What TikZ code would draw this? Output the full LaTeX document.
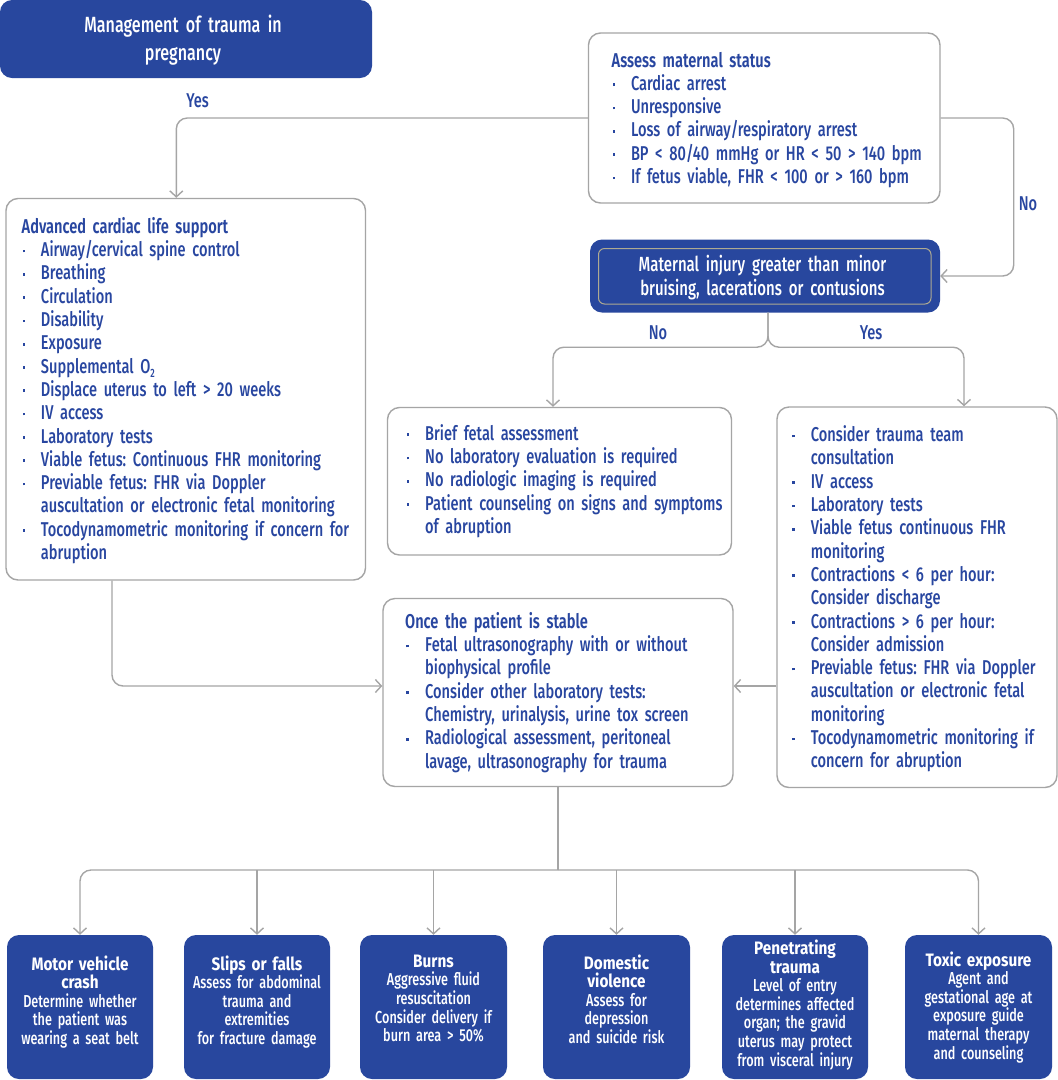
\documentclass[tikz,border=0pt]{standalone}
\usepackage{fontspec}
\setmainfont{Fira Sans Medium}[FakeStretch=0.73, BoldFont={Fira Sans Bold}]
\newfontfamily\medfont{Fira Sans SemiBold}[FakeStretch=0.73]
\newfontfamily\bfont{Fira Sans Bold}[FakeStretch=0.85]
\usetikzlibrary{arrows.meta,calc}
\definecolor{nblue}{RGB}{40,71,158}
\definecolor{tblue}{RGB}{40,70,160}
\definecolor{lgray}{RGB}{165,165,165}
\definecolor{innerc}{RGB}{175,170,145}
\frenchspacing
\hyphenpenalty=10000
\exhyphenpenalty=10000
\newcommand\nl{\hfil\break}
\newcommand\bdot{\raisebox{4.3pt}{\rule{2.7pt}{2.7pt}}}
\newcommand\bitem[2][19.3pt]{{\hangindent=#1\hangafter=1\noindent\makebox[#1][l]{\hspace{0.8pt}\bdot}#2\par}}
\tikzset{
  wbox/.style={draw=lgray, line width=1.4pt, rounded corners=12pt, fill=white, inner sep=0pt},
  bbox/.style={fill=nblue, draw=none, rounded corners=12pt, inner sep=0pt},
  conn/.style={draw=lgray, line width=1.4pt, rounded corners=11pt},
  arr/.style={conn, -{Straight Barb[length=6pt,width=13pt]}},
  txt/.style={inner sep=0pt, text=tblue, font=\fontsize{20}{23.3}\selectfont, text width=#1, align=left, anchor=base west},
  ctxt/.style={inner sep=0pt, text=white, text width=#1, align=center, anchor=base},
  lbl/.style={inner sep=0pt, text=tblue, font=\fontsize{20}{24}\selectfont, anchor=base},
  btxt/.style={ctxt=#1, font=\fontsize{17.3}{18.6}\selectfont}
}
\newcommand\btitle[1]{{\fontsize{18}{18.6}\selectfont\bfont #1}}
\begin{document}
\begin{tikzpicture}[x=1pt,y=-1pt]
\useasboundingbox (0,0) rectangle (1058,1080);
\fill[white] (0,0) rectangle (1058,1080);
% boxes
\node[bbox, minimum width=372pt, minimum height=78pt] (title) at (186,39) {};
\node[wbox, minimum width=351.5pt, minimum height=170pt] (assess) at (764.25,118) {};
\node[bbox, minimum width=350pt, minimum height=73pt] (maternal) at (765,276) {};
\node[draw=innerc, line width=1pt, rounded corners=6pt, inner sep=0pt, minimum width=332.5pt, minimum height=55.5pt] (matinner) at (764.75,276.25) {};
\node[wbox, minimum width=359.5pt, minimum height=381.5pt] (acls) at (185.75,389.25) {};
\node[wbox, minimum width=344pt, minimum height=147.5pt] (midno) at (559.5,481.25) {};
\node[wbox, minimum width=280pt, minimum height=380.5pt] (right) at (917,597.25) {};
\node[wbox, minimum width=350pt, minimum height=188pt] (stable) at (558,692.5) {};
\node[bbox, minimum width=146pt, minimum height=144pt] (b1) at (80,1007) {};
\node[bbox, minimum width=146pt, minimum height=144pt] (b2) at (257,1007) {};
\node[bbox, minimum width=147pt, minimum height=144pt] (b3) at (433.5,1007) {};
\node[bbox, minimum width=147pt, minimum height=144pt] (b4) at (616.5,1007) {};
\node[bbox, minimum width=146pt, minimum height=144pt] (b5) at (795,1007) {};
\node[bbox, minimum width=147pt, minimum height=144pt] (b6) at (978.5,1007) {};
% connectors
\draw[arr] (assess.west) -| ([xshift=171pt]acls.north west);
\draw[arr] (assess.east) -- ++(73,0) |- (maternal.east);
\draw[arr] ([xshift=3pt]maternal.south) -- ++(0,34.5) -| ([xshift=-6.5pt]midno.north);
\draw[arr] ([xshift=3pt]maternal.south) -- ++(0,34.5) -| ([xshift=47pt]right.north);
\coordinate (stW) at ([yshift=6.5pt]stable.west);
\coordinate (stE) at ([yshift=6.5pt]stable.east);
\draw[arr] ([xshift=-73.75pt]acls.south) |- (stW);
\draw[arr] (right.west |- stE) -- (stE);
\coordinate (bus) at (stable.south |- 0,870);
\draw[conn] (stable.south) -- (bus);
\draw[arr] (bus) -| (b1.north);
\draw[arr] (bus) -| (b6.north);
\draw[arr] (b2.north |- bus) -- (b2.north);
\draw[arr] (b3.north |- bus) -- (b3.north);
\draw[arr] (b4.north |- bus) -- (b4.north);
\draw[arr] (b5.north |- bus) -- (b5.north);
% labels
\node[lbl] (yes1) at (197.5,107) {Yes};
\node[lbl] (no1) at (1028,210) {No};
\node[lbl] (no2) at (658,339) {No};
\node[lbl] (yes2) at (871,339) {Yes};
% texts
\node[ctxt=372pt, font=\fontsize{22}{28}\selectfont] (titletxt) at (183,32.3) {Management of trauma in\\pregnancy};
\node[ctxt=340pt, font=\fontsize{20.5}{23.3}\selectfont] (mattxt) at (762.5,271.7) {Maternal injury greater than minor\\bruising, lacerations or contusions};
\node[txt=500pt] (assesstxt) at (611.5,67) {{\medfont Assess maternal status}\par
\bitem{Cardiac arrest}
\bitem{Unresponsive}
\bitem{Loss of airway/respiratory arrest}
\bitem{BP < 80/40 mmHg or HR < 50 > 140 bpm}
\bitem{If fetus viable, FHR < 100 or > 160 bpm}};
\node[txt=500pt] (aclstxt) at (21.5,233.3) {{\medfont Advanced cardiac life support}\par
\bitem{Airway/cervical spine control}
\bitem{Breathing}
\bitem{Circulation}
\bitem{Disability}
\bitem{Exposure}
\bitem{Supplemental O\raisebox{-4pt}{\fontsize{12}{12}\selectfont 2}}
\bitem{Displace uterus to left > 20 weeks}
\bitem{IV access}
\bitem{Laboratory tests}
\bitem{Viable fetus: Continuous FHR monitoring}
\bitem{Previable fetus: FHR via Doppler\nl auscultation or electronic fetal monitoring}
\bitem{Tocodynamometric monitoring if concern for\nl abruption}};
\node[txt=500pt] (midnotxt) at (405.5,440.3) {%
\bitem[19.5pt]{Brief fetal assessment}
\bitem[19.5pt]{No laboratory evaluation is required}
\bitem[19.5pt]{No radiologic imaging is required}
\bitem[19.5pt]{Patient counseling on signs and symptoms\nl of abruption}};
\node[txt=500pt] (righttxt) at (791,441.6) {%
\bitem[19.7pt]{Consider trauma team\nl consultation}
\bitem[19.7pt]{IV access}
\bitem[19.7pt]{Laboratory tests}
\bitem[19.7pt]{Viable fetus continuous FHR\nl monitoring}
\bitem[19.7pt]{Contractions < 6 per hour:\nl Consider discharge}
\bitem[19.7pt]{Contractions > 6 per hour:\nl Consider admission}
\bitem[19.7pt]{Previable fetus: FHR via Doppler\nl auscultation or electronic fetal\nl monitoring}
\bitem[19.7pt]{Tocodynamometric monitoring if\nl concern for abruption}};
\node[txt=500pt] (stabletxt) at (405,628.3) {{\medfont Once the patient is stable}\par
\bitem[20pt]{Fetal ultrasonography with or without\nl biophysical profile}
\bitem[20pt]{Consider other laboratory tests:\nl Chemistry, urinalysis, urine tox screen}
\bitem[20pt]{Radiological assessment, peritoneal\nl lavage, ultrasonography for trauma}};
% bottom texts
\node[btxt=146pt] (b1txt) at (80,970) {\btitle{Motor vehicle\\crash}\\Determine whether\\the patient was\\wearing a seat belt};
\node[btxt=146pt] (b2txt) at (257,970) {\btitle{Slips or falls}\\Assess for abdominal\\trauma and\\extremities\\for fracture damage};
\node[btxt=147pt] (b3txt) at (433.5,967.3) {\btitle{Burns}\\Aggressive fluid\\resuscitation\\Consider delivery if\\burn area > 50\%};
\node[btxt=147pt] (b4txt) at (616.5,969) {\btitle{Domestic\\violence}\\Assess for\\depression\\and suicide risk};
\node[btxt=146pt] (b5txt) at (795,954.5) {\btitle{Penetrating\\trauma}\\Level of entry\\determines affected\\organ; the gravid\\uterus may protect\\from visceral injury};
\node[btxt=147pt] (b6txt) at (978.5,966) {\btitle{Toxic exposure}\\Agent and\\gestational age at\\exposure guide\\maternal therapy\\and counseling};
\end{tikzpicture}
\end{document}
